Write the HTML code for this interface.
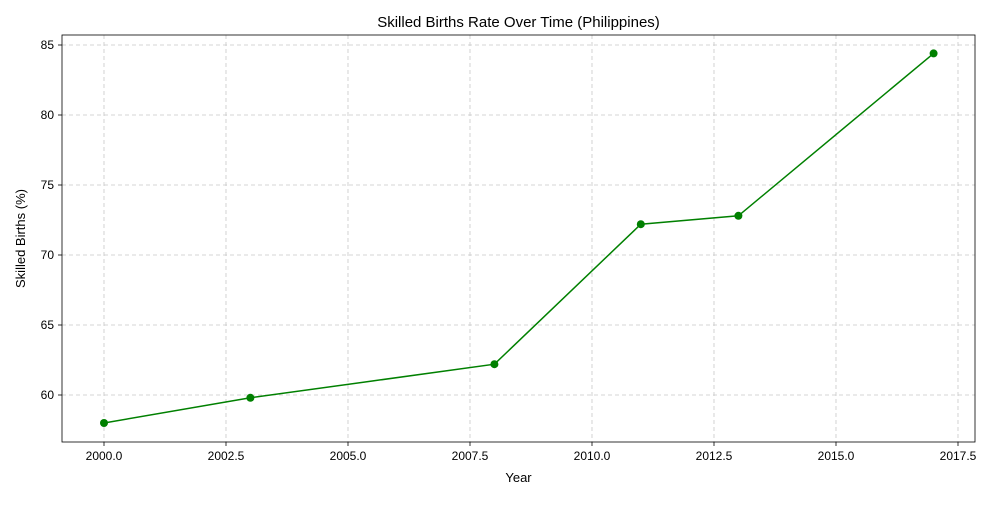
<!DOCTYPE html>
<html><head><meta charset="utf-8"><style>
body{margin:0;background:#fff;font-family:"Liberation Sans","DejaVu Sans",sans-serif;}
</style></head><body>
<svg id="chart" width="1000" height="500" xmlns="http://www.w3.org/2000/svg" font-family="Liberation Sans, DejaVu Sans, sans-serif"></svg>
<script>
const years = [2000, 2003, 2008, 2011, 2013, 2017];
const rates = [58.0, 59.8, 62.2, 72.2, 72.8, 84.4];
const xTicks = [2000, 2002.5, 2005, 2007.5, 2010, 2012.5, 2015, 2017.5];
const xTickLabels = ["2000.0","2002.5","2005.0","2007.5","2010.0","2012.5","2015.0","2017.5"];
const yTicks = [60, 65, 70, 75, 80, 85];
const yTickLabels = ["60","65","70","75","80","85"];

const svg = document.getElementById('chart');
const NS = 'http://www.w3.org/2000/svg';
const L=62,R=975,T=35,B=442;
const xs = v => 104 + (v-2000)*48.8;
const ys = v => 45 + (85-v)*14;
function mk(tag, attrs, parent){const e=document.createElementNS(NS,tag);for(const k in attrs)e.setAttribute(k,attrs[k]);(parent||svg).appendChild(e);return e;}

const grid = mk('g',{});


const xaxis = mk('g',{});


const yaxis = mk('g',{});



xTicks.forEach((t,i)=>{
  const x=xs(t);
  mk('line',{x1:x,x2:x,y1:T,y2:B,stroke:'#c8c8c8','stroke-dasharray':'4,3','stroke-width':0.8},grid);
  mk('line',{x1:x,x2:x,y1:B,y2:B+4,stroke:'#000','stroke-width':0.8},xaxis);
  const tx=mk('text',{x:x,y:B+18,'text-anchor':'middle','font-size':12},xaxis);
  tx.textContent=xTickLabels[i];
  
  
});
yTicks.forEach((t,i)=>{
  const y=ys(t);
  mk('line',{x1:L,x2:R,y1:y,y2:y,stroke:'#c8c8c8','stroke-dasharray':'4,3','stroke-width':0.8},grid);
  mk('line',{x1:L-4,x2:L,y1:y,y2:y,stroke:'#000','stroke-width':0.8},yaxis);
  const tx=mk('text',{x:L-8,y:y+4,'text-anchor':'end','font-size':12},yaxis);
  tx.textContent=yTickLabels[i];
  
  
});
const frame=mk('rect',{x:L,y:T,width:R-L,height:B-T,fill:'none',stroke:'#000','stroke-width':0.8});



const line=mk('polyline',{points:years.map((y,i)=>xs(y)+','+ys(rates[i])).join(' '),fill:'none',stroke:'#008000','stroke-width':1.5});


years.forEach((y,i)=>{
  const c=mk('circle',{cx:xs(y),cy:ys(rates[i]),r:4,fill:'#008000'});
  
  
});

const title=mk('text',{x:(L+R)/2,y:27,'text-anchor':'middle','font-size':15});
title.textContent='Skilled Births Rate Over Time (Philippines)';


const xt=mk('text',{x:(L+R)/2,y:482,'text-anchor':'middle','font-size':13});
xt.textContent='Year';


const yt=mk('text',{x:0,y:0,'text-anchor':'middle','font-size':13,transform:'translate(25,'+((T+B)/2)+') rotate(-90)'});
yt.textContent='Skilled Births (%)';


</script>
</body></html>
